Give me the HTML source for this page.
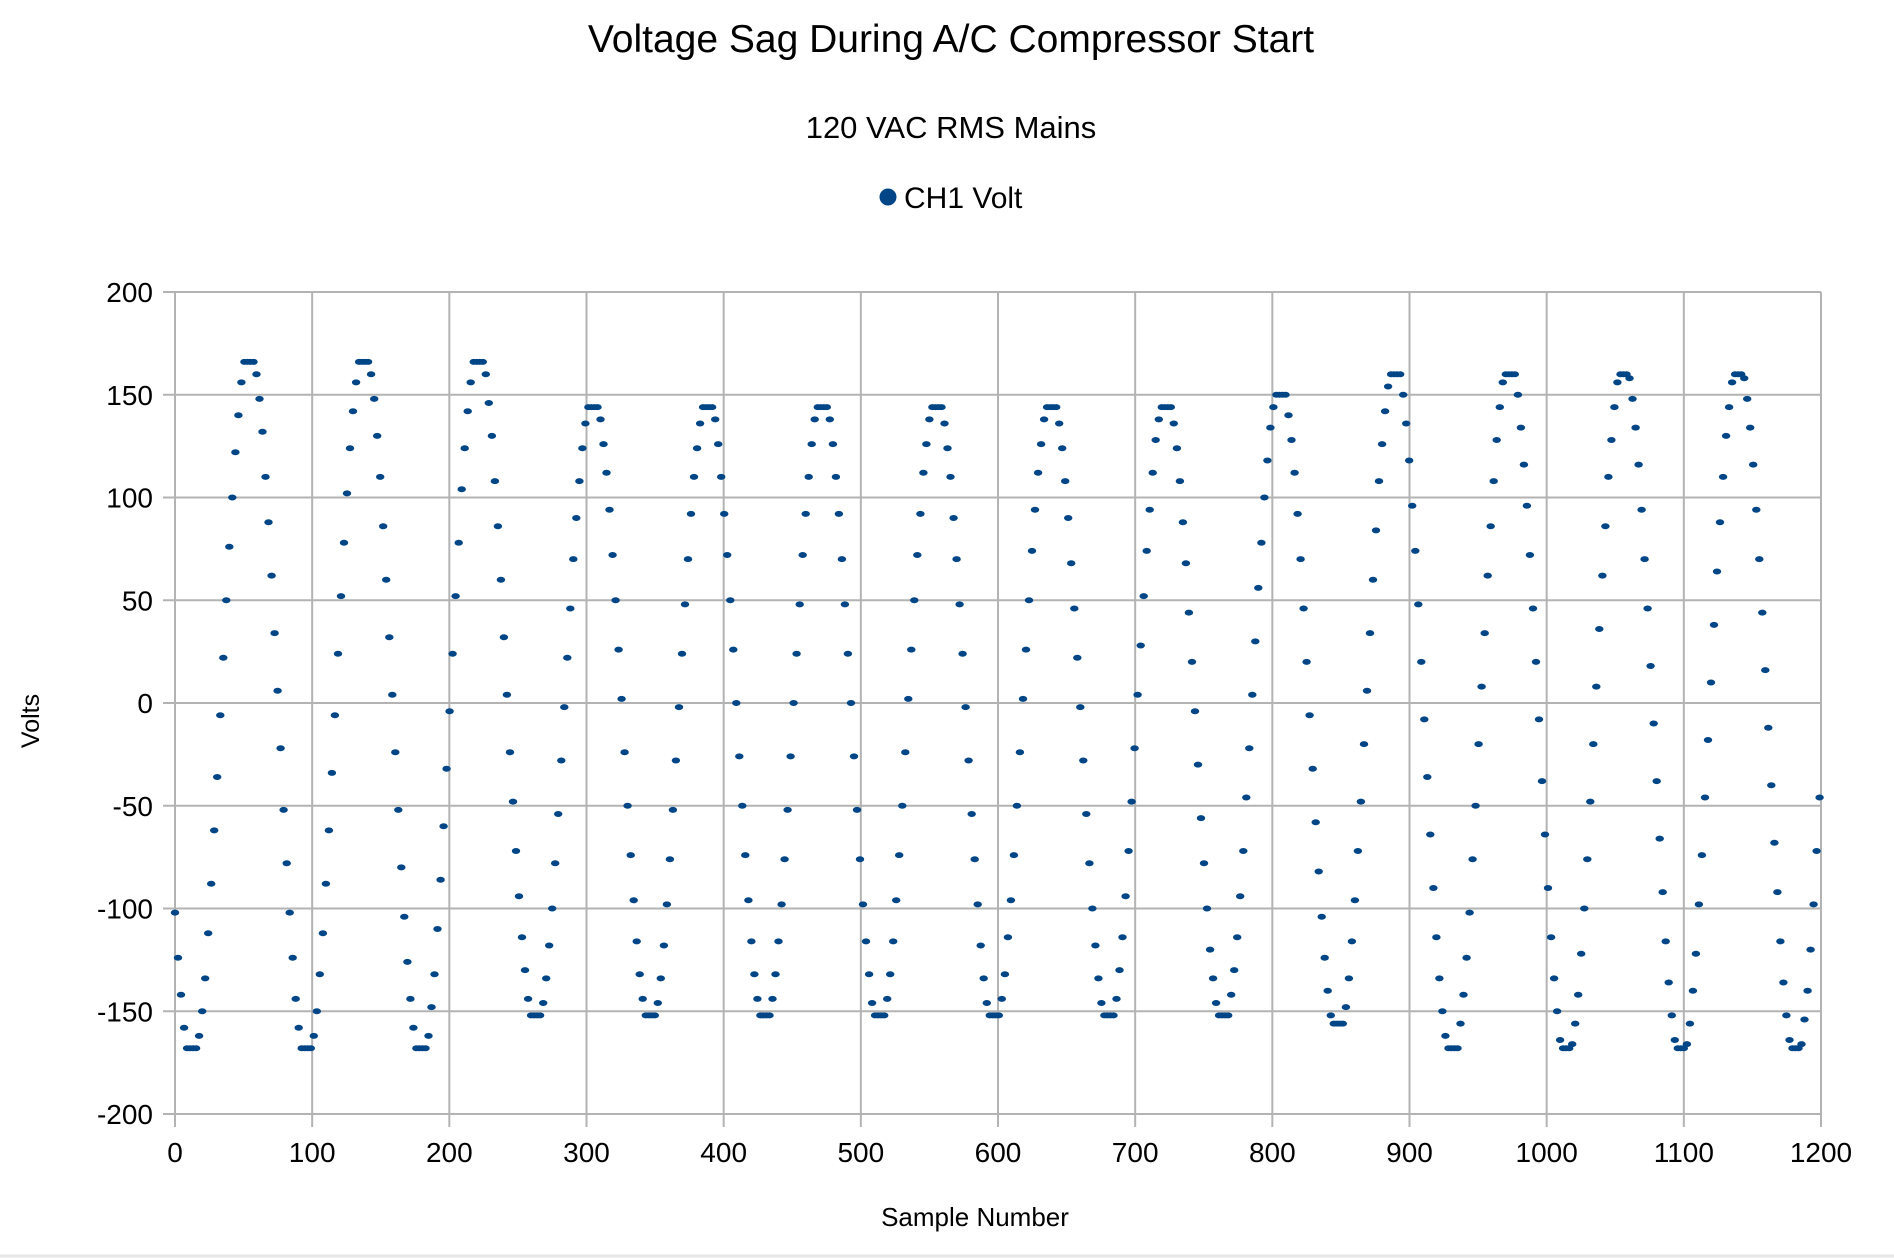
<!DOCTYPE html>
<html><head><meta charset="utf-8"><style>
html,body{margin:0;padding:0;background:#fff;}
svg{display:block;font-family:"Liberation Sans",Arial,sans-serif;}
</style></head><body>
<svg id="s" width="1894" height="1258" viewBox="0 0 1894 1258" xmlns="http://www.w3.org/2000/svg">
<rect width="1894" height="1258" fill="#fff"/>
<line x1="0" y1="1256" x2="1894" y2="1256" stroke="#e6e6e6" stroke-width="3"/>
<text x="951" y="52" font-size="39" text-anchor="middle" fill="#000">Voltage Sag During A/C Compressor Start</text>
<text x="951" y="138" font-size="31" text-anchor="middle" fill="#000">120 VAC RMS Mains</text>
<circle cx="888" cy="197" r="8.5" fill="#004586"/>
<text x="904" y="208" font-size="30" fill="#000">CH1 Volt</text>
<text transform="translate(39,721) rotate(-90)" font-size="25" text-anchor="middle" fill="#000">Volts</text>
<text x="975" y="1226" font-size="26" text-anchor="middle" fill="#000">Sample Number</text>
<g id="grid" stroke="#b3b3b3" stroke-width="2"></g>
<g id="labels" font-size="28" fill="#000"></g>
<g id="dots" fill="#004586"></g>
</svg>
<script>
var NS="http://www.w3.org/2000/svg";
var L=175,R=1821,T=292,B=1114;
function X(v){return L+(R-L)*v/1200;}
function Y(v){return T+(B-T)*(200-v)/400;}
var g=document.getElementById('grid'),lb=document.getElementById('labels'),d=document.getElementById('dots');
function ln(x1,y1,x2,y2){var e=document.createElementNS(NS,'line');e.setAttribute('x1',x1);e.setAttribute('y1',y1);e.setAttribute('x2',x2);e.setAttribute('y2',y2);g.appendChild(e);}
function tx(x,y,s,a){var e=document.createElementNS(NS,'text');e.setAttribute('x',x);e.setAttribute('y',y);e.setAttribute('text-anchor',a);e.textContent=s;lb.appendChild(e);}
for(var v=-200;v<=200;v+=50){var y=Y(v);ln(163,y,R,y);tx(153,y+10,String(v),'end');}
for(var s=0;s<=1200;s+=100){var x=X(s);ln(x,T,x,1127);tx(x,1162,String(s),'middle');}
var P=83.5,x0=33.5;
var pos=[166,166,166,144,144,144,144,144,144,150,160,160,160,160,160];
var neg=[168,168,168,152,152,152,152,152,152,152,157,168,168,168,168,168];
for(var i=0;i*2.2<=1201;i++){
  var xs=i*2.2;
  var ph=(xs-x0)/P;
  var k=Math.floor(ph);
  var f=ph-k;
  var val;
  if(f<0.5){var A=pos[Math.max(0,k)]||160;val=Math.min(A,A*1.04*Math.sin(2*Math.PI*f));}
  else{var A2=neg[Math.max(0,k+1)]||168;val=Math.max(-A2,A2*1.04*Math.sin(2*Math.PI*f));}
  val=Math.round(val/2)*2;
  var e=document.createElementNS(NS,'ellipse');
  e.setAttribute('cx',X(xs).toFixed(1));e.setAttribute('cy',Y(val).toFixed(1));
  e.setAttribute('rx',4.2);e.setAttribute('ry',3);d.appendChild(e);
}
</script>
</body></html>
